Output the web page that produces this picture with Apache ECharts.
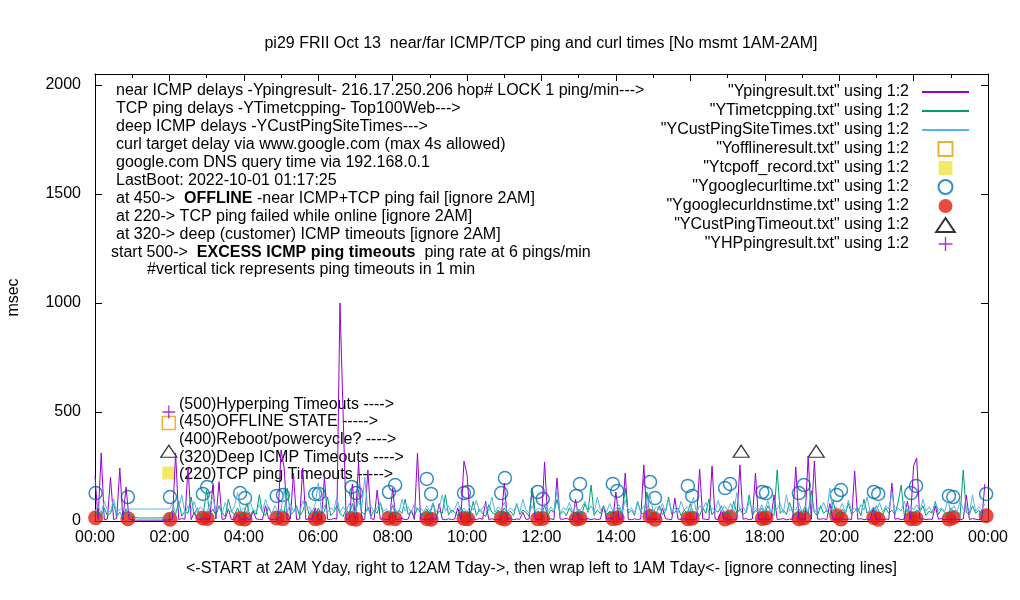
<!DOCTYPE html>
<html>
<head>
<meta charset="utf-8">
<title>pi29 ping and curl times</title>
<script src="https://cdn.jsdelivr.net/npm/echarts/dist/echarts.min.js"></script>
<style>
  html, body { margin: 0; padding: 0; background: #fff; }
  #chart { width: 1020px; height: 600px; }
</style>
</head>
<body>
<div id="chart"></div>
<script>
// one sample every STEP minutes, 00:00 .. 23:55 (x axis is minutes of the day)
const STEP = 5;

// near ICMP delays (Ypingresult), msec
const pingMs = [
  206, 8, 312, 6, 9, 200, 7, 12, 243, 6, 156, 8,        // 00
  5, 4, 4, 4, 4, 4, 4, 4, 4, 4, 4, 4,                   // 01 (no msmt)
  6, 9, 312, 7, 11, 8, 243, 6, 40, 9, 7, 12,            // 02
  8, 6, 165, 9, 180, 7, 10, 55, 6, 8, 30, 9,            // 03
  7, 12, 6, 45, 9, 8, 6, 70, 10, 7, 9, 6,               // 04
  326, 243, 8, 10, 220, 7, 9, 243, 6, 11, 8, 60,        // 05
  9, 7, 200, 8, 6, 12, 9, 1000, 500, 7, 10, 170,        // 06
  8, 271, 9, 6, 234, 11, 7, 142, 8, 10, 6, 9,           // 07
  150, 7, 8, 12, 6, 9, 50, 7, 312, 10, 8, 6,            // 08
  9, 11, 7, 80, 8, 6, 10, 7, 9, 60, 8, 275,             // 09
  211, 7, 9, 6, 12, 8, 90, 7, 10, 6, 9, 8,              // 10
  174, 7, 11, 6, 9, 8, 40, 7, 10, 151, 6, 9,            // 11
  8, 271, 7, 10, 6, 197, 9, 8, 12, 7, 6, 100,           // 12
  9, 7, 8, 11, 6, 10, 7, 9, 69, 8, 12, 6,               // 13
  133, 7, 9, 220, 8, 6, 10, 7, 9, 257, 8, 11,           // 14
  6, 9, 7, 60, 10, 8, 6, 105, 9, 7, 11, 8,              // 15
  6, 9, 7, 238, 10, 8, 6, 252, 9, 7, 50, 8,             // 16
  10, 6, 9, 7, 257, 8, 11, 6, 9, 220, 7, 8,             // 17
  10, 6, 9, 120, 7, 8, 11, 6, 9, 7, 248, 8,             // 18
  10, 6, 298, 7, 275, 9, 8, 11, 6, 80, 7, 9,            // 19
  8, 10, 6, 9, 7, 229, 8, 11, 6, 9, 7, 60,              // 20
  8, 10, 6, 9, 7, 174, 8, 11, 6, 9, 90, 7,              // 21
  252, 289, 8, 10, 6, 9, 7, 70, 8, 11, 6, 9,            // 22
  7, 10, 8, 6, 9, 119, 7, 11, 8, 6, 9, 170              // 23
];

// TCP ping delays (YTimetcpping), msec
const tcpMs = [
  30, 45, 20, 60, 25, 35, 80, 22, 40, 18, 55, 28,
  20, 16, 14, 14, 14, 14, 14, 14, 14, 14, 14, 14,
  25, 50, 30, 90, 22, 45, 35, 110, 28, 60, 20, 40,
  142, 30, 55, 25, 70, 38, 20, 100, 45, 30, 60, 24,
  35, 80, 22, 50, 30, 120, 40, 25, 65, 30, 45, 20,
  55, 35, 150, 28, 40, 70, 22, 45, 90, 30, 50, 25,
  60, 30, 45, 110, 25, 40, 70, 35, 20, 55, 30, 80,
  25, 142, 40, 30, 65, 22, 50, 35, 85, 28, 45, 30,
  70, 25, 50, 35, 100, 30, 45, 22, 60, 38, 25, 55,
  30, 80, 22, 45, 35, 120, 28, 50, 40, 25, 65, 30,
  45, 30, 90, 25, 55, 35, 20, 75, 40, 30, 50, 25,
  60, 35, 45, 25, 80, 30, 50, 40, 22, 151, 35, 45,
  30, 70, 25, 50, 40, 100, 30, 45, 25, 60, 35, 28,
  55, 30, 80, 40, 165, 25, 50, 35, 70, 30, 45, 22,
  40, 60, 30, 150, 35, 50, 25, 90, 40, 30, 133, 25,
  50, 35, 70, 28, 45, 110, 30, 40, 60, 25, 50, 35,
  80, 30, 45, 25, 60, 35, 100, 28, 50, 40, 70, 30,
  45, 25, 90, 35, 55, 30, 40, 120, 25, 50, 35, 60,
  30, 70, 40, 25, 234, 35, 50, 30, 85, 40, 25, 55,
  35, 60, 30, 140, 40, 25, 70, 35, 50, 30, 90, 40,
  25, 55, 35, 80, 30, 45, 60, 25, 100, 35, 50, 30,
  70, 40, 25, 60, 35, 50, 30, 85, 165, 25, 55, 35,
  30, 50, 40, 70, 25, 45, 35, 90, 30, 55, 40, 25,
  60, 35, 45, 25, 234, 40, 30, 70, 35, 50, 25, 45
];

// deep ICMP delays (YCustPingSiteTimes), msec
const custMs = [
  45, 70, 35, 90, 50, 40, 100, 38, 55, 55, 55, 55,
  55, 55, 55, 55, 55, 55, 55, 55, 55, 55, 55, 55,
  55, 80, 40, 60, 120, 35, 70, 45, 90, 38, 65, 50,
  40, 75, 110, 45, 60, 35, 85, 50, 40, 70, 130, 45,
  60, 38, 90, 50, 45, 75, 40, 100, 55, 35, 70, 48,
  50, 142, 40, 80, 45, 60, 38, 95, 50, 65, 40, 75,
  174, 45, 70, 40, 60, 50, 110, 38, 65, 45, 80, 50,
  40, 90, 55, 202, 45, 70, 38, 60, 85, 45, 55, 40,
  75, 50, 40, 100, 45, 65, 38, 80, 50, 60, 42, 70,
  45, 85, 40, 60, 120, 45, 70, 38, 55, 90, 45, 60,
  40, 70, 50, 95, 42, 60, 80, 45, 110, 40, 65, 50,
  85, 42, 60, 45, 75, 40, 100, 50, 38, 70, 45, 60,
  50, 80, 40, 65, 45, 142, 38, 60, 50, 85, 42, 70,
  40, 60, 90, 45, 70, 38, 110, 50, 65, 42, 80, 45,
  55, 75, 40, 95, 48, 60, 38, 85, 45, 70, 50, 120,
  42, 65, 50, 80, 40, 100, 45, 60, 38, 90, 50, 65,
  45, 110, 40, 70, 55, 85, 38, 60, 45, 95, 42, 70,
  50, 80, 40, 130, 45, 65, 38, 90, 50, 60, 42, 75,
  45, 95, 40, 65, 55, 80, 38, 120, 45, 60, 50, 85,
  40, 70, 45, 100, 38, 60, 55, 85, 42, 150, 45, 65,
  50, 80, 40, 95, 45, 60, 38, 75, 50, 110, 42, 65,
  45, 85, 40, 70, 55, 130, 38, 60, 45, 90, 42, 70,
  50, 75, 40, 100, 45, 65, 38, 85, 50, 60, 42, 95,
  45, 70, 40, 90, 55, 60, 38, 120, 45, 65, 50, 80
];

// curl runs: minute of day, curl delay and DNS time (msec)
const curlMin = [1, 53, 121, 174, 181, 234, 242, 293, 303, 355, 361, 414, 421, 474, 484, 535,
  542, 595, 601, 655, 661, 714, 722, 776, 782, 835, 842, 895, 903, 956, 963, 1016, 1024,
  1076, 1082, 1135, 1143, 1196, 1203, 1256, 1263, 1316, 1324, 1377, 1384, 1437];
const curlMs = [128, 110, 110, 124, 156, 128, 105, 115, 119, 124, 124, 156, 128, 133, 165, 193,
  124, 128, 133, 128, 197, 133, 101, 115, 170, 170, 138, 179, 105, 161, 115, 151, 170,
  133, 128, 128, 165, 119, 142, 133, 124, 128, 161, 115, 110, 124];
const dnsMs = [15, 10, 8, 14, 12, 12, 9, 14, 11, 10, 14, 12, 8, 13, 10, 12,
  8, 12, 10, 14, 9, 10, 12, 9, 13, 11, 14, 22, 8, 10, 13, 9, 18,
  12, 15, 10, 14, 24, 9, 16, 8, 10, 12, 9, 16, 24];

// event markers (minute of day, level)
const offlinePts = [[119, 450]];
const tcpOffPts = [[119, 220]];
const custTimeoutPts = [[119, 320], [1042, 320], [1163, 320]];
const hyperPts = [[119, 500]];

const names = [
  '"Ypingresult.txt" using 1:2',
  '"YTimetcpping.txt" using 1:2',
  '"YCustPingSiteTimes.txt" using 1:2',
  '"Yofflineresult.txt" using 1:2',
  '"Ytcpoff_record.txt" using 1:2',
  '"Ygooglecurltime.txt" using 1:2',
  '"Ygooglecurldnstime.txt" using 1:2',
  '"YCustPingTimeout.txt" using 1:2',
  '"YHPpingresult.txt" using 1:2'
];

const notes = [
  'near ICMP delays -Ypingresult- 216.17.250.206 hop# LOCK 1 ping/min--->',
  'TCP ping delays -YTimetcpping- Top100Web--->',
  'deep ICMP delays -YCustPingSiteTimes--->',
  'curl target delay via www.google.com (max 4s allowed)',
  'google.com DNS query time via 192.168.0.1',
  'LastBoot: 2022-10-01 01:17:25',
  'at 450->  {b|OFFLINE} -near ICMP+TCP ping fail [ignore 2AM]',
  'at 220-> TCP ping failed while online [ignore 2AM]',
  'at 320-> deep (customer) ICMP timeouts [ignore 2AM]'
];
const keyNotes = [
  '(500)Hyperping Timeouts ---->',
  '(450)OFFLINE STATE ----->',
  '(400)Reboot/powercycle? ---->',
  '(320)Deep ICMP Timeouts ---->',
  '(220)TCP ping Timeouts ----->'
];

const FONT = '"Liberation Sans", Arial, sans-serif';
const pad = (n) => String(n).padStart(2, '0');
const hhmm = (v) => pad(Math.floor(v / 60) % 24) + ':' + pad(v % 60);
const toXY = (arr) => arr.map((v, i) => [i * STEP, v]);
const zip = (xs, ys) => xs.map((x, i) => [x, ys[i]]);

const chart = echarts.init(document.getElementById('chart'), null, { renderer: 'canvas' });

const textItem = (x, y, text) => ({
  type: 'text', x: x, y: y, silent: true,
  style: {
    text: text, fontSize: 16, fontFamily: FONT, fill: '#000', verticalAlign: 'middle',
    rich: { b: { fontSize: 16, fontFamily: FONT, fontWeight: 'bold', fill: '#000' } }
  }
});

const graphics = [];
notes.forEach((t, k) => graphics.push(textItem(116, 91 + k * 17.9, t)));
graphics.push(textItem(111, 91 + 9 * 17.9, 'start 500->  {b|EXCESS ICMP ping timeouts}  ping rate at 6 pings/min'));
graphics.push(textItem(147, 91 + 10 * 17.9, '#vertical tick represents ping timeouts in 1 min'));
keyNotes.forEach((t, k) => graphics.push(textItem(179, [405, 422, 440, 458, 475][k], t)));

const xBase = {
  type: 'value', min: 0, max: 1440, interval: 120,
  axisLine: { show: true, onZero: false, lineStyle: { color: '#000', width: 1 } },
  axisTick: { show: true, inside: true, length: 7, lineStyle: { color: '#000' } },
  minorTick: { show: true, splitNumber: 2, length: 4, lineStyle: { color: '#000' } },
  splitLine: { show: false },
  minorSplitLine: { show: false }
};
const yBase = {
  type: 'value', min: 0, max: 2050, interval: 500,
  axisLine: { show: true, onZero: false, lineStyle: { color: '#000', width: 1 } },
  axisTick: { show: true, inside: true, length: 7, lineStyle: { color: '#000' } },
  splitLine: { show: false }
};

// legend: line series show only their stroke (symbol hidden)
const legendData = names.map((n, i) => (i < 3
  ? { name: n, itemStyle: { opacity: 0 } }
  : { name: n }));

const option = {
  backgroundColor: '#fff',
  animation: false,
  title: {
    text: 'pi29 FRII Oct 13  near/far ICMP/TCP ping and curl times [No msmt 1AM-2AM]',
    left: 541, top: 36, padding: 0, textAlign: 'center',
    textStyle: { fontSize: 16, fontWeight: 'normal', fontFamily: FONT, color: '#000' }
  },
  grid: { left: 95, right: 32, top: 74, bottom: 79, outerBoundsMode: 'none', containLabel: false },
  legend: {
    orient: 'vertical', right: 50, top: 84, align: 'right', padding: 0,
    itemWidth: 47, itemHeight: 14, itemGap: 3, selectedMode: false,
    textStyle: { fontSize: 16, fontFamily: FONT, color: '#000', lineHeight: 14, padding: [0, 8, 0, 0] },
    data: legendData
  },
  xAxis: [
    Object.assign({}, xBase, {
      position: 'bottom',
      name: '<-START at 2AM Yday, right to 12AM Tday->, then wrap left to 1AM Tday<- [ignore connecting lines]',
      nameLocation: 'middle', nameGap: 40,
      nameTextStyle: { fontSize: 16, fontFamily: FONT, color: '#000' },
      axisLabel: { show: true, margin: 9, fontSize: 16, fontFamily: FONT, color: '#000', formatter: hhmm }
    }),
    Object.assign({}, xBase, { position: 'top', axisLabel: { show: false } })
  ],
  yAxis: [
    Object.assign({}, yBase, {
      position: 'left',
      name: 'msec', nameLocation: 'middle', nameGap: 73, nameRotate: 90,
      nameTextStyle: { fontSize: 16, fontFamily: FONT, color: '#000' },
      axisLabel: {
        show: true, margin: 14, fontSize: 16, fontFamily: FONT, color: '#000',
        showMaxLabel: false, formatter: (v) => String(v)
      }
    }),
    Object.assign({}, yBase, { position: 'right', axisLabel: { show: false } })
  ],
  series: [
    {
      name: names[0], type: 'line', data: toXY(pingMs), symbol: 'none',
      color: '#9400d3', lineStyle: { color: '#9400d3', width: 1 }
    },
    {
      name: names[1], type: 'line', data: toXY(tcpMs), symbol: 'none',
      color: '#009e73', lineStyle: { color: '#009e73', width: 1 }
    },
    {
      name: names[2], type: 'line', data: toXY(custMs), symbol: 'none',
      color: '#56b4e9', lineStyle: { color: '#56b4e9', width: 1 }
    },
    {
      name: names[3], type: 'scatter', data: offlinePts, clip: false,
      symbol: 'path://M0,0H10V10H0Z', symbolSize: 13,
      itemStyle: { color: 'transparent', borderColor: '#e69f00', borderWidth: 1.5 }
    },
    {
      name: names[4], type: 'scatter', data: tcpOffPts, clip: false,
      symbol: 'path://M0,0H10V10H0Z', symbolSize: 13,
      itemStyle: { color: '#f0e442' }
    },
    {
      name: names[5], type: 'scatter', data: zip(curlMin, curlMs), clip: false,
      symbol: 'circle', symbolSize: 13,
      itemStyle: { color: 'transparent', borderColor: '#0072b2', borderWidth: 1.5 }
    },
    {
      name: names[6], type: 'scatter', data: zip(curlMin, dnsMs), clip: false,
      symbol: 'circle', symbolSize: 15,
      itemStyle: { color: '#e51e10' }
    },
    {
      name: names[7], type: 'scatter', data: custTimeoutPts, clip: false,
      symbol: 'path://M8,0L16,12H0Z', symbolSize: [16, 12],
      itemStyle: { color: 'transparent', borderColor: '#000', borderWidth: 1.2 }
    },
    {
      name: names[8], type: 'scatter', data: hyperPts, clip: false,
      symbol: 'path://M4.5,0H5.5V4.5H10V5.5H5.5V10H4.5V5.5H0V4.5H4.5Z', symbolSize: 13,
      itemStyle: { color: '#9400d3' }
    }
  ],
  graphic: graphics
};

chart.setOption(option);
</script>
</body>
</html>
